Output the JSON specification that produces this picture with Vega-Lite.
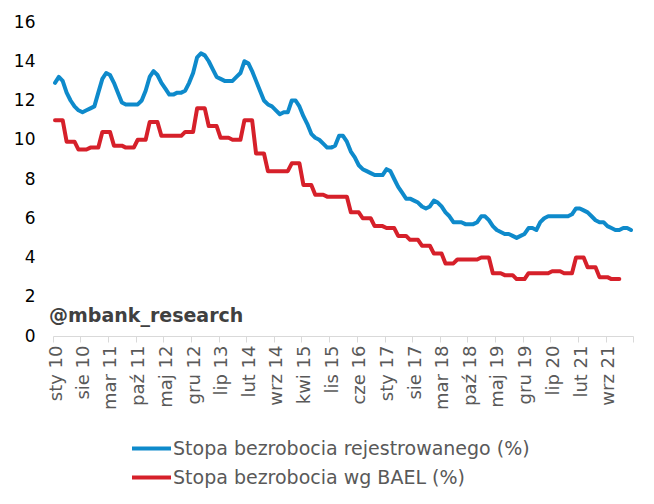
{
  "$schema": "https://vega.github.io/schema/vega-lite/v6.json",
  "width": 580,
  "height": 314,
  "autosize": {"type": "none"},
  "padding": {"left": 53, "top": 22, "right": 21, "bottom": 168},
  "background": "white",
  "config": {
    "view": {"stroke": null},
    "font": "DejaVu Sans",
    "axis": {"labelOverlap": false, "labelBound": false}
  },
  "layer": [
    {
      "data": {"values": [
        {"d":"2010-01-01","rej":12.9,"bael":11.0},{"d":"2010-02-01","rej":13.2,"bael":11.0},{"d":"2010-03-01","rej":13.0,"bael":11.0},
        {"d":"2010-04-01","rej":12.4,"bael":9.9},{"d":"2010-05-01","rej":12.0,"bael":9.9},{"d":"2010-06-01","rej":11.7,"bael":9.9},
        {"d":"2010-07-01","rej":11.5,"bael":9.5},{"d":"2010-08-01","rej":11.4,"bael":9.5},{"d":"2010-09-01","rej":11.5,"bael":9.5},
        {"d":"2010-10-01","rej":11.6,"bael":9.6},{"d":"2010-11-01","rej":11.7,"bael":9.6},{"d":"2010-12-01","rej":12.4,"bael":9.6},
        {"d":"2011-01-01","rej":13.1,"bael":10.4},{"d":"2011-02-01","rej":13.4,"bael":10.4},{"d":"2011-03-01","rej":13.3,"bael":10.4},
        {"d":"2011-04-01","rej":12.9,"bael":9.7},{"d":"2011-05-01","rej":12.4,"bael":9.7},{"d":"2011-06-01","rej":11.9,"bael":9.7},
        {"d":"2011-07-01","rej":11.8,"bael":9.6},{"d":"2011-08-01","rej":11.8,"bael":9.6},{"d":"2011-09-01","rej":11.8,"bael":9.6},
        {"d":"2011-10-01","rej":11.8,"bael":10.0},{"d":"2011-11-01","rej":12.0,"bael":10.0},{"d":"2011-12-01","rej":12.5,"bael":10.0},
        {"d":"2012-01-01","rej":13.2,"bael":10.9},{"d":"2012-02-01","rej":13.5,"bael":10.9},{"d":"2012-03-01","rej":13.3,"bael":10.9},
        {"d":"2012-04-01","rej":12.9,"bael":10.2},{"d":"2012-05-01","rej":12.6,"bael":10.2},{"d":"2012-06-01","rej":12.3,"bael":10.2},
        {"d":"2012-07-01","rej":12.3,"bael":10.2},{"d":"2012-08-01","rej":12.4,"bael":10.2},{"d":"2012-09-01","rej":12.4,"bael":10.2},
        {"d":"2012-10-01","rej":12.5,"bael":10.4},{"d":"2012-11-01","rej":12.9,"bael":10.4},{"d":"2012-12-01","rej":13.4,"bael":10.4},
        {"d":"2013-01-01","rej":14.2,"bael":11.6},{"d":"2013-02-01","rej":14.4,"bael":11.6},{"d":"2013-03-01","rej":14.3,"bael":11.6},
        {"d":"2013-04-01","rej":14.0,"bael":10.7},{"d":"2013-05-01","rej":13.6,"bael":10.7},{"d":"2013-06-01","rej":13.2,"bael":10.7},
        {"d":"2013-07-01","rej":13.1,"bael":10.1},{"d":"2013-08-01","rej":13.0,"bael":10.1},{"d":"2013-09-01","rej":13.0,"bael":10.1},
        {"d":"2013-10-01","rej":13.0,"bael":10.0},{"d":"2013-11-01","rej":13.2,"bael":10.0},{"d":"2013-12-01","rej":13.4,"bael":10.0},
        {"d":"2014-01-01","rej":14.0,"bael":11.0},{"d":"2014-02-01","rej":13.9,"bael":11.0},{"d":"2014-03-01","rej":13.5,"bael":11.0},
        {"d":"2014-04-01","rej":13.0,"bael":9.3},{"d":"2014-05-01","rej":12.5,"bael":9.3},{"d":"2014-06-01","rej":12.0,"bael":9.3},
        {"d":"2014-07-01","rej":11.8,"bael":8.4},{"d":"2014-08-01","rej":11.7,"bael":8.4},{"d":"2014-09-01","rej":11.5,"bael":8.4},
        {"d":"2014-10-01","rej":11.3,"bael":8.4},{"d":"2014-11-01","rej":11.4,"bael":8.4},{"d":"2014-12-01","rej":11.4,"bael":8.4},
        {"d":"2015-01-01","rej":12.0,"bael":8.8},{"d":"2015-02-01","rej":12.0,"bael":8.8},{"d":"2015-03-01","rej":11.7,"bael":8.8},
        {"d":"2015-04-01","rej":11.2,"bael":7.7},{"d":"2015-05-01","rej":10.8,"bael":7.7},{"d":"2015-06-01","rej":10.3,"bael":7.7},
        {"d":"2015-07-01","rej":10.1,"bael":7.2},{"d":"2015-08-01","rej":10.0,"bael":7.2},{"d":"2015-09-01","rej":9.8,"bael":7.2},
        {"d":"2015-10-01","rej":9.6,"bael":7.1},{"d":"2015-11-01","rej":9.6,"bael":7.1},{"d":"2015-12-01","rej":9.7,"bael":7.1},
        {"d":"2016-01-01","rej":10.2,"bael":7.1},{"d":"2016-02-01","rej":10.2,"bael":7.1},{"d":"2016-03-01","rej":9.9,"bael":7.1},
        {"d":"2016-04-01","rej":9.4,"bael":6.3},{"d":"2016-05-01","rej":9.1,"bael":6.3},{"d":"2016-06-01","rej":8.7,"bael":6.3},
        {"d":"2016-07-01","rej":8.5,"bael":6.0},{"d":"2016-08-01","rej":8.4,"bael":6.0},{"d":"2016-09-01","rej":8.3,"bael":6.0},
        {"d":"2016-10-01","rej":8.2,"bael":5.6},{"d":"2016-11-01","rej":8.2,"bael":5.6},{"d":"2016-12-01","rej":8.2,"bael":5.6},
        {"d":"2017-01-01","rej":8.5,"bael":5.5},{"d":"2017-02-01","rej":8.4,"bael":5.5},{"d":"2017-03-01","rej":8.0,"bael":5.5},
        {"d":"2017-04-01","rej":7.6,"bael":5.1},{"d":"2017-05-01","rej":7.3,"bael":5.1},{"d":"2017-06-01","rej":7.0,"bael":5.1},
        {"d":"2017-07-01","rej":7.0,"bael":4.9},{"d":"2017-08-01","rej":6.9,"bael":4.9},{"d":"2017-09-01","rej":6.8,"bael":4.9},
        {"d":"2017-10-01","rej":6.6,"bael":4.6},{"d":"2017-11-01","rej":6.5,"bael":4.6},{"d":"2017-12-01","rej":6.6,"bael":4.6},
        {"d":"2018-01-01","rej":6.9,"bael":4.2},{"d":"2018-02-01","rej":6.8,"bael":4.2},{"d":"2018-03-01","rej":6.6,"bael":4.2},
        {"d":"2018-04-01","rej":6.3,"bael":3.7},{"d":"2018-05-01","rej":6.1,"bael":3.7},{"d":"2018-06-01","rej":5.8,"bael":3.7},
        {"d":"2018-07-01","rej":5.8,"bael":3.9},{"d":"2018-08-01","rej":5.8,"bael":3.9},{"d":"2018-09-01","rej":5.7,"bael":3.9},
        {"d":"2018-10-01","rej":5.7,"bael":3.9},{"d":"2018-11-01","rej":5.7,"bael":3.9},{"d":"2018-12-01","rej":5.8,"bael":3.9},
        {"d":"2019-01-01","rej":6.1,"bael":4.0},{"d":"2019-02-01","rej":6.1,"bael":4.0},{"d":"2019-03-01","rej":5.9,"bael":4.0},
        {"d":"2019-04-01","rej":5.6,"bael":3.2},{"d":"2019-05-01","rej":5.4,"bael":3.2},{"d":"2019-06-01","rej":5.3,"bael":3.2},
        {"d":"2019-07-01","rej":5.2,"bael":3.1},{"d":"2019-08-01","rej":5.2,"bael":3.1},{"d":"2019-09-01","rej":5.1,"bael":3.1},
        {"d":"2019-10-01","rej":5.0,"bael":2.9},{"d":"2019-11-01","rej":5.1,"bael":2.9},{"d":"2019-12-01","rej":5.2,"bael":2.9},
        {"d":"2020-01-01","rej":5.5,"bael":3.2},{"d":"2020-02-01","rej":5.5,"bael":3.2},{"d":"2020-03-01","rej":5.4,"bael":3.2},
        {"d":"2020-04-01","rej":5.8,"bael":3.2},{"d":"2020-05-01","rej":6.0,"bael":3.2},{"d":"2020-06-01","rej":6.1,"bael":3.2},
        {"d":"2020-07-01","rej":6.1,"bael":3.3},{"d":"2020-08-01","rej":6.1,"bael":3.3},{"d":"2020-09-01","rej":6.1,"bael":3.3},
        {"d":"2020-10-01","rej":6.1,"bael":3.2},{"d":"2020-11-01","rej":6.1,"bael":3.2},{"d":"2020-12-01","rej":6.2,"bael":3.2},
        {"d":"2021-01-01","rej":6.5,"bael":4.0},{"d":"2021-02-01","rej":6.5,"bael":4.0},{"d":"2021-03-01","rej":6.4,"bael":4.0},
        {"d":"2021-04-01","rej":6.3,"bael":3.5},{"d":"2021-05-01","rej":6.1,"bael":3.5},{"d":"2021-06-01","rej":5.9,"bael":3.5},
        {"d":"2021-07-01","rej":5.8,"bael":3.0},{"d":"2021-08-01","rej":5.8,"bael":3.0},{"d":"2021-09-01","rej":5.6,"bael":3.0},
        {"d":"2021-10-01","rej":5.5,"bael":2.9},{"d":"2021-11-01","rej":5.4,"bael":2.9},{"d":"2021-12-01","rej":5.4,"bael":2.9},
        {"d":"2022-01-01","rej":5.5},{"d":"2022-02-01","rej":5.5},{"d":"2022-03-01","rej":5.4}
      ]},
      "transform": [
        {"fold": ["rej", "bael"], "as": ["key", "value"]},
        {"filter": "isValid(datum.value)"}
      ],
      "mark": {"type": "line", "strokeWidth": 4, "strokeJoin": "round", "strokeCap": "round"},
      "encoding": {
        "x": {
          "field": "d", "type": "temporal", "timeUnit": "utcyearmonth", "bandPosition": 0.5,
          "scale": {"type": "utc", "domain": [{"year": 2010, "month": 1, "date": 1, "utc": true}, {"year": 2022, "month": 4, "date": 1, "utc": true}]},
          "axis": {
            "title": null,
            "grid": false,
            "tickCount": 40,
            "values": [
              {"year":2010,"month":1,"date":1,"utc":true},{"year":2010,"month":8,"date":1,"utc":true},{"year":2011,"month":3,"date":1,"utc":true},
              {"year":2011,"month":10,"date":1,"utc":true},{"year":2012,"month":5,"date":1,"utc":true},{"year":2012,"month":12,"date":1,"utc":true},
              {"year":2013,"month":7,"date":1,"utc":true},{"year":2014,"month":2,"date":1,"utc":true},{"year":2014,"month":9,"date":1,"utc":true},
              {"year":2015,"month":4,"date":1,"utc":true},{"year":2015,"month":11,"date":1,"utc":true},{"year":2016,"month":6,"date":1,"utc":true},
              {"year":2017,"month":1,"date":1,"utc":true},{"year":2017,"month":8,"date":1,"utc":true},{"year":2018,"month":3,"date":1,"utc":true},
              {"year":2018,"month":10,"date":1,"utc":true},{"year":2019,"month":5,"date":1,"utc":true},{"year":2019,"month":12,"date":1,"utc":true},
              {"year":2020,"month":7,"date":1,"utc":true},{"year":2021,"month":2,"date":1,"utc":true},{"year":2021,"month":9,"date":1,"utc":true},
              {"year":2022,"month":4,"date":1,"utc":true}
            ],
            "labelExpr": "datum.value >= utc(2022, 2, 1) ? '' : ['sty','lut','mar','kwi','maj','cze','lip','sie','wrz','paź','lis','gru'][utcmonth(datum.value)] + ' ' + utcFormat(datum.value, '%y')",
            "labelAngle": 270,
            "labelFont": "DejaVu Sans",
            "labelFontSize": 18,
            "labelColor": "#595959",
            "labelPadding": 3,
            "labelOffset": 3,
            "labelFlush": false,
            "labelOverlap": false,
            "domainColor": "#d9d9d9",
            "tickColor": "#d9d9d9",
            "tickSize": 6
          }
        },
        "y": {
          "field": "value", "type": "quantitative",
          "scale": {"domain": [0, 16], "nice": false},
          "axis": {
            "title": null, "grid": false, "domain": false, "ticks": false,
            "tickCount": 20,
            "values": [0, 2, 4, 6, 8, 10, 12, 14, 16],
            "labelOverlap": false,
            "labelFont": "DejaVu Sans", "labelFontSize": 17, "labelColor": "#000000", "labelPadding": 18
          }
        },
        "color": {
          "field": "key", "type": "nominal",
          "scale": {"domain": ["rej", "bael"], "range": ["#0e8acb", "#d6202a"]},
          "legend": {
            "orient": "none", "legendX": 77, "legendY": 417, "direction": "vertical", "title": null,
            "padding": 0,
            "symbolType": "stroke", "symbolSize": 1521, "symbolStrokeWidth": 4,
            "labelFont": "DejaVu Sans", "labelFontSize": 19, "labelColor": "#595959", "labelOffset": 0, "labelLimit": 600,
            "rowPadding": 9, "clipHeight": 19,
            "labelExpr": "datum.value == 'rej' ? 'Stopa bezrobocia rejestrowanego (%)' : 'Stopa bezrobocia wg BAEL (%)'"
          }
        }
      }
    },
    {
      "data": {"values": [{"t": "@mbank_research"}]},
      "mark": {"type": "text", "align": "left", "baseline": "alphabetic", "font": "DejaVu Sans", "fontWeight": "bold", "fontSize": 19, "color": "#404040", "dx": -4},
      "encoding": {
        "x": {"datum": {"year": 2010, "month": 1, "date": 1, "utc": true}, "type": "temporal"},
        "y": {"datum": 0.73, "type": "quantitative"},
        "text": {"field": "t"}
      }
    }
  ]
}
